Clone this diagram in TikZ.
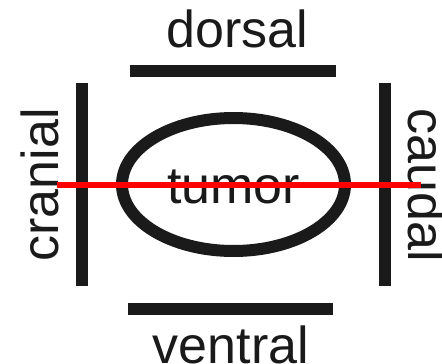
\documentclass[tikz,border=0pt]{standalone}
\usepackage{fontspec}
\setmainfont{Liberation Sans}
\definecolor{ink}{HTML}{1A1A1A}
\begin{document}
\begin{tikzpicture}[x=1pt,y=-1pt,
  lbl/.style={inner sep=0pt,anchor=base,text=ink,font=\fontsize{52}{60}\selectfont},
  bar/.style={draw=ink,line width=12pt,line cap=butt},
  axis/.style={draw=red,line width=6pt}]
\useasboundingbox (0,0) rectangle (442,364);
\fill[white] (0,0) rectangle (442,364);
% bars
\coordinate (t1) at (130,71);  \coordinate (t2) at (336,71);
\coordinate (b1) at (128,309); \coordinate (b2) at (333,309);
\coordinate (l1) at (81.5,83); \coordinate (l2) at (81.5,286);
\coordinate (r1) at (385,83);  \coordinate (r2) at (385,286);
\draw[bar] (t1) -- (t2);
\draw[bar] (b1) -- (b2);
\draw[bar] (l1) -- (l2);
\draw[bar] (r1) -- (r2);
% tumor
\draw[draw=ink,line width=12pt] (233.5,184.5) ellipse [x radius=111.5, y radius=66.5];
\node[lbl] (tumor) at (233.5,203) {tumor};
% labels
\node[lbl] (dorsal) at (237.5,47) {dorsal};
\node[lbl] (ventral) at (231,363) {ventral};
\node[lbl,rotate=90] (cranial) at (58,185) {cranial};
\node[lbl,rotate=-90] (caudal) at (408,185.5) {caudal};
% red axis
\coordinate (a1) at (57,185);
\coordinate (a2) at (421,185);
\draw[axis] (a1) -- (a2);
\end{tikzpicture}
\end{document}
